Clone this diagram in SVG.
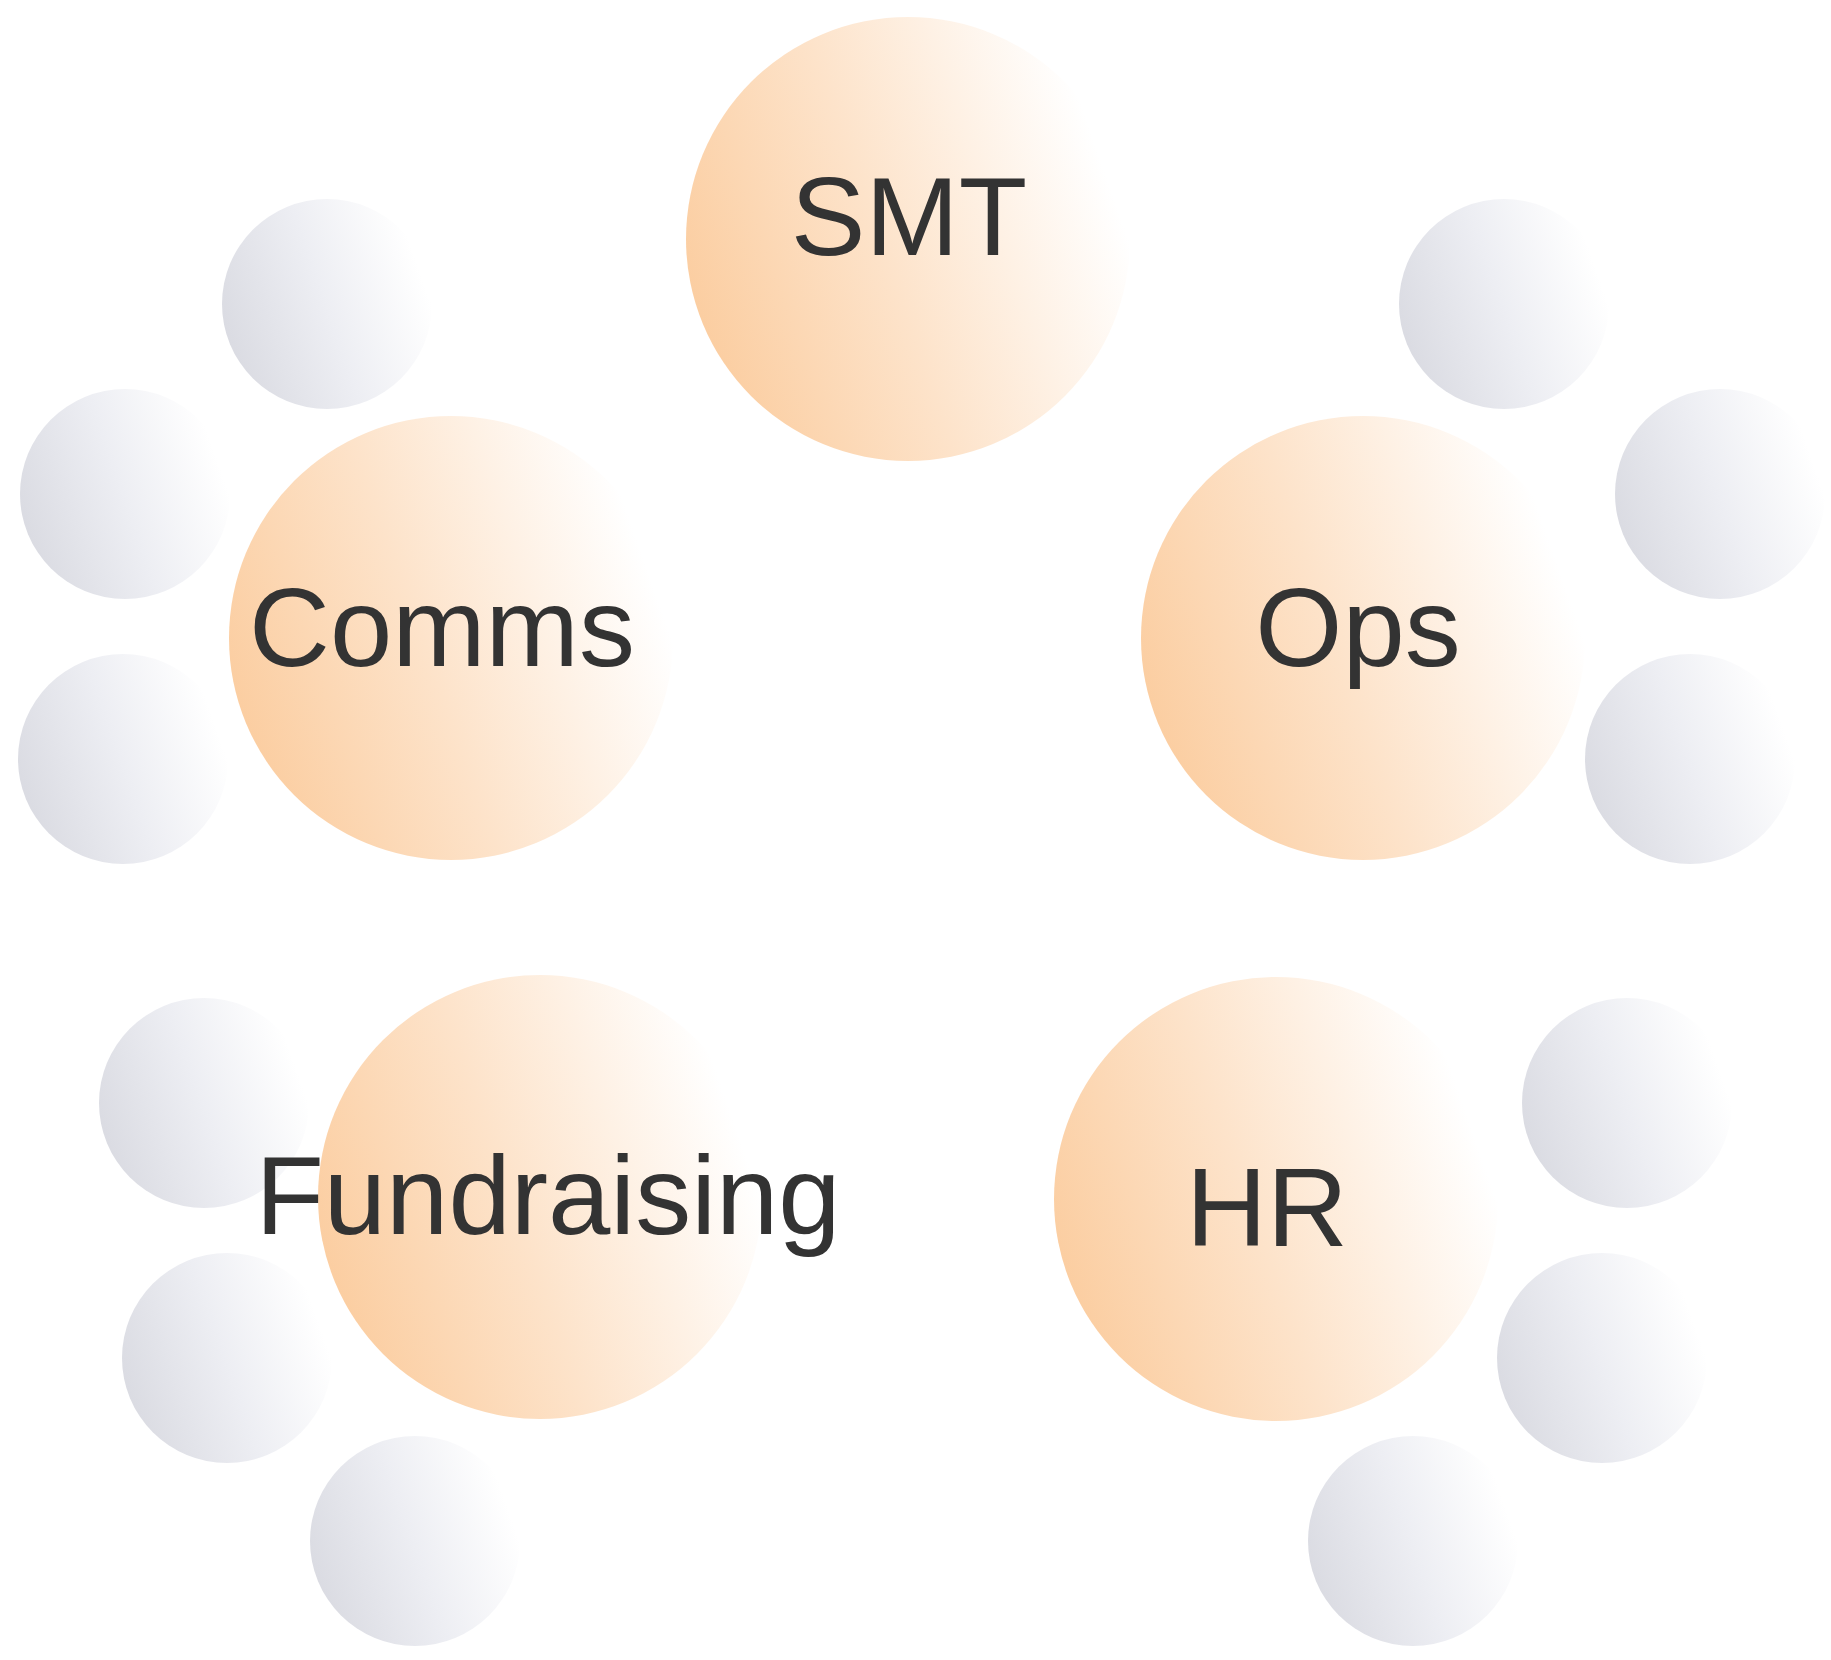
<svg xmlns="http://www.w3.org/2000/svg" width="1831" height="1660" viewBox="0 0 1831 1660">
<defs>
<linearGradient id="gOrange" x1="0" y1="0.7" x2="1" y2="0.35">
<stop offset="0" stop-color="#FBCC9E"/>
<stop offset="0.45" stop-color="#FDE3CA"/>
<stop offset="0.95" stop-color="#FFFFFF"/>
</linearGradient>
<linearGradient id="gGray" x1="0" y1="0.7" x2="1" y2="0.35">
<stop offset="0" stop-color="#D9DAE1"/>
<stop offset="0.5" stop-color="#EDEEF3"/>
<stop offset="0.95" stop-color="#FFFFFF"/>
</linearGradient>
</defs>
<style>
.big{fill:url(#gOrange);}
.small{fill:url(#gGray);}
.lbl{font-family:"Liberation Sans",Arial,sans-serif;font-size:112px;fill:#333333;text-anchor:middle;}
</style>
<rect width="1831" height="1660" fill="#FFFFFF"/>
<g id="satellites">
<circle class="small" cx="327" cy="304" r="105"/>
<circle class="small" cx="125" cy="494" r="105"/>
<circle class="small" cx="123" cy="759" r="105"/>
<circle class="small" cx="1504" cy="304" r="105"/>
<circle class="small" cx="1720" cy="494" r="105"/>
<circle class="small" cx="1690" cy="759" r="105"/>
<circle class="small" cx="204" cy="1103" r="105"/>
<circle class="small" cx="227" cy="1358" r="105"/>
<circle class="small" cx="415" cy="1541" r="105"/>
<circle class="small" cx="1627" cy="1103" r="105"/>
<circle class="small" cx="1602" cy="1358" r="105"/>
<circle class="small" cx="1413" cy="1541" r="105"/>
</g>
<g id="connectors"></g>
<g id="node-smt">
<circle class="big" cx="908" cy="239" r="222"/>
<text class="lbl" x="909" y="255">SMT</text>
</g>
<g id="node-comms">
<circle class="big" cx="451" cy="638" r="222"/>
<text class="lbl" x="442" y="666">Comms</text>
</g>
<g id="node-ops">
<circle class="big" cx="1363" cy="638" r="222"/>
<text class="lbl" x="1358" y="666">Ops</text>
</g>
<g id="node-fundraising">
<circle class="big" cx="540" cy="1197" r="222"/>
<text class="lbl" x="548" y="1234">Fundraising</text>
</g>
<g id="node-hr">
<circle class="big" cx="1276" cy="1199" r="222"/>
<text class="lbl" x="1267" y="1246">HR</text>
</g>
</svg>
